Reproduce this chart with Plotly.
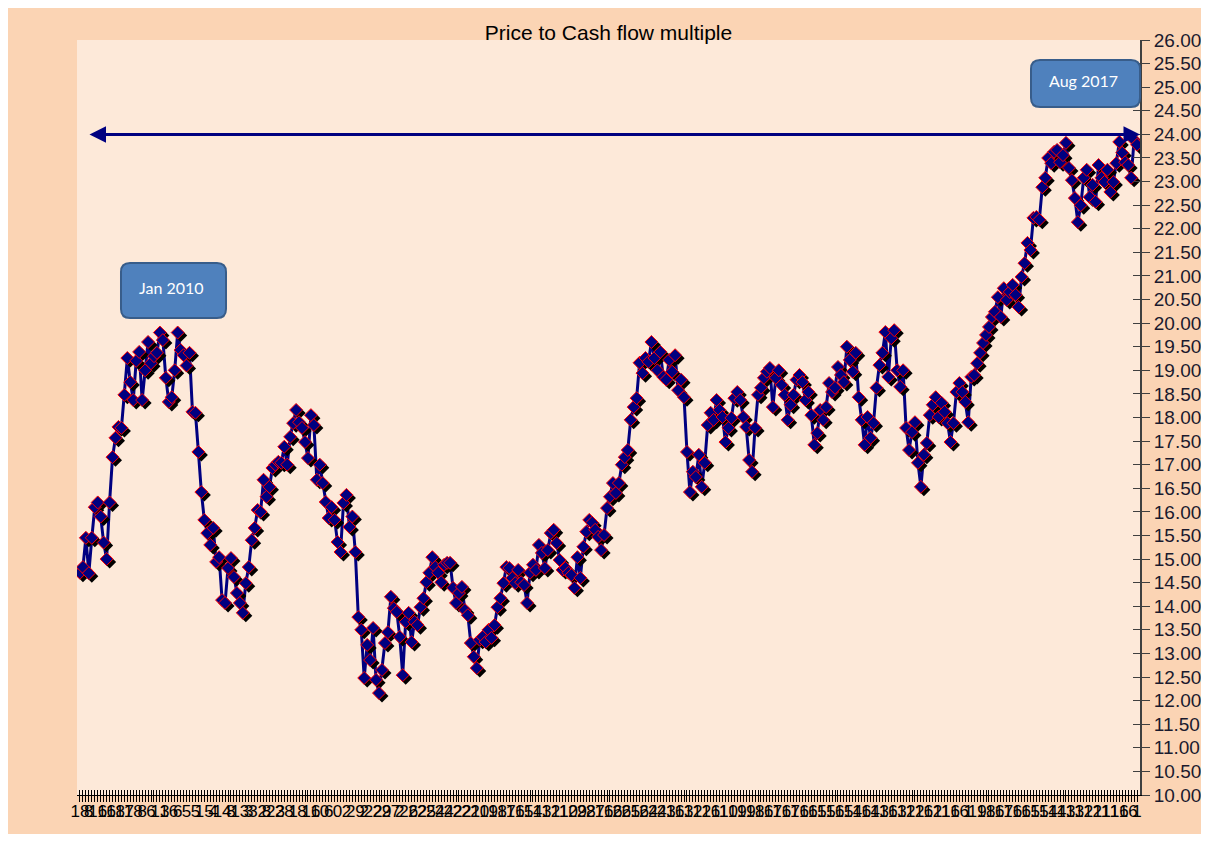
import plotly.graph_objects as go

# ---------------- data ----------------
pcf_values = [
    # 2009 - 2010
    14.71, 14.83, 15.45, 14.70, 15.45, 16.10, 16.20, 15.90, 15.35, 15.00,
    16.20, 17.16, 17.57, 17.80, 17.78, 18.48, 19.26, 18.75, 18.37, 19.20,
    19.39, 18.37, 19.00, 19.60, 19.15, 19.30, 19.37, 19.80, 19.64, 18.84,
    18.33, 18.43, 19.00, 19.80, 19.43, 19.32, 19.10, 19.37, 18.12, 18.10,
    17.27, 16.42, 15.83, 15.55, 15.30, 15.66, 14.94, 15.04, 14.13, 14.07,
    14.81, 15.02, 14.62, 14.28, 14.07, 13.86, 14.49, 14.83, 15.40, 15.66,
    16.04, 16.00, 16.68, 16.32, 16.53, 16.93, 17.00, 17.06, 17.04, 17.38,
    17.00, 17.59, 17.88, 18.16, 17.90, 17.78, 17.48, 17.14, 18.05, 17.84,
    16.68, 17.00, 16.61, 16.21, 15.87,
    # 2011 - 2013
    16.10, 15.83, 15.36, 15.15, 16.19, 16.36, 15.68, 15.90, 15.15, 13.77,
    13.50, 12.48, 13.18, 12.86, 13.54, 12.44, 12.16, 12.65, 13.22, 13.45,
    14.20, 13.96, 13.88, 13.35, 12.54, 13.67, 13.86, 13.24, 13.67, 13.60,
    13.98, 14.17, 14.51, 14.71, 15.04, 14.83, 14.71, 14.51, 14.88, 14.92,
    14.92, 14.39, 14.07, 14.28, 14.41, 13.92, 13.81, 13.22, 12.93, 12.69,
    13.29, 13.35, 13.24, 13.50, 13.33, 13.60, 13.98, 14.17, 14.49, 14.83,
    14.81, 14.60, 14.49, 14.77, 14.51, 14.45, 14.07, 14.71, 14.88, 14.77,
    15.30, 15.13, 14.81, 15.19, 15.55, 15.62, 15.34, 14.98, 14.77, 14.81,
    14.71, 14.66, 14.39, 15.04, 14.60, 15.26, 15.58, 15.83, 15.77, 15.62,
    15.47, 15.19, 15.51, 16.08, 16.32,
    # 2013 - 2015
    16.61, 16.40, 16.61, 17.00, 17.16, 17.31, 17.95, 18.22, 18.41, 19.16,
    18.94, 19.26, 19.18, 19.60, 19.26, 19.00, 19.39, 18.86, 18.80, 19.22,
    18.97, 19.32, 18.58, 18.80, 18.43, 17.27, 16.42, 16.85, 16.74, 17.21,
    16.53, 17.04, 17.84, 18.10, 17.95, 18.37, 18.16, 18.01, 17.48, 17.78,
    17.99, 18.41, 18.54, 18.37, 18.01, 17.80, 17.10, 16.85, 17.78, 18.48,
    18.63, 18.84, 18.97, 19.05, 18.22, 18.84, 19.00, 18.69, 18.48, 17.95,
    18.27, 18.48, 18.80, 18.90, 18.75, 18.37, 18.54, 18.05, 17.42, 17.67,
    18.16, 17.95, 18.22, 18.73, 18.54, 18.63, 19.07, 18.90, 18.75, 19.50,
    19.22, 18.97, 19.37, 18.43, 17.95, 17.42, 18.01, 17.57, 17.88, 18.63,
    # 2015 - 2017
    19.11, 19.37, 19.81, 18.86, 19.68, 19.85, 19.00, 18.65, 19.00, 17.78,
    17.31, 17.69, 17.90, 17.04, 16.53, 17.21, 17.46, 18.05, 18.27, 18.43,
    18.01, 18.31, 18.12, 17.88, 17.48, 17.88, 18.54, 18.73, 18.54, 18.33,
    17.90, 18.86, 18.90, 19.15, 19.37, 19.58, 19.75, 19.92, 20.13, 20.24,
    20.55, 20.13, 20.74, 20.49, 20.66, 20.81, 20.60, 20.34, 20.98, 21.27,
    21.70, 21.55, 22.23, 22.25, 22.19, 22.88, 23.08, 23.50, 23.39, 23.63,
    23.67, 23.41, 23.56, 23.82, 23.29, 23.03, 22.65, 22.14, 22.50, 23.08,
    23.25, 22.67, 22.93, 22.57, 23.35, 23.08, 22.99, 23.25, 22.78, 22.99,
    23.39, 23.84, 23.61, 23.41, 23.35, 23.08, 23.88, 23.78,
]

x_tick_labels = (
    "4 3 24 21 24 2 14 11 16 16 12 18 13 18 18 8 16 16 18 17 18 8 6 13 16 6 5 5 "
    "15 4 14 8 13 3 32 8 23 28 1 8 16 10 6 0 2 29 2 22 29 27 2 26 22 25 24 24 22 "
    "22 21 20 19 18 17 16 15 14 13 12 11 10 29 28 27 16 16 26 25 16 24 24 23 16 "
    "13 12 12 16 11 10 19 19 18 16 17 16 17 16 16 15 15 16 15 14 16 14 13 16 13 "
    "12 12 16 12 11 16 16 1 19 18 16 17 16 16 15 15 14 14 13 13 12 12 11 11 16 16 1"
).split()

callout_texts = ["Jan 2010", "Aug 2017"]
title_text = "Price to Cash flow multiple"
y_min, y_max, y_step = 10.0, 26.0, 0.5
arrow_level = 24.0

# ---------------- geometry (page pixels) ----------------
PAGE_OFF = 8
FIG_W, FIG_H = 1193, 826
PL, PT, PR, PB = 77, 40, 1140, 795
PW, PH = PR - PL, PB - PT

n = len(pcf_values)
idx = list(range(n))
xr = [-1, n]
yr = [y_min, y_max]
sx = 3 * (xr[1] - xr[0]) / PW   # 3 px shadow offset
sy = 3 * (yr[1] - yr[0]) / PH

# tick labels every third point, aligned to the last point
label_pos = list(range(n - 1, -1, -3))[::-1]
if len(x_tick_labels) >= len(label_pos):
    labs = x_tick_labels[-len(label_pos):]
else:
    labs = [""] * (len(label_pos) - len(x_tick_labels)) + x_tick_labels
ticktext = [""] * n
for p, t in zip(label_pos, labs):
    ticktext[p] = t

NAVY = "#000080"
FONT = "Liberation Sans, Arial, sans-serif"

fig = go.Figure()
fig.add_trace(go.Scatter(x=idx, y=pcf_values, mode="lines",
                         line=dict(color=NAVY, width=3),
                         xaxis="x", yaxis="y", hoverinfo="skip"))
fig.add_trace(go.Scatter(x=idx, y=pcf_values, mode="markers",
                         marker=dict(symbol="diamond", size=10, color="black",
                                     line=dict(width=0)),
                         xaxis="x2", yaxis="y2", hoverinfo="skip"))
fig.add_trace(go.Scatter(x=idx, y=pcf_values, mode="markers",
                         marker=dict(symbol="diamond", size=10, color=NAVY,
                                     line=dict(color="#FF0000", width=1)),
                         xaxis="x3", yaxis="y3", hoverinfo="skip"))


def px_x(X):
    return (X - PL) / PW


def px_y(Y):
    return (PB - Y) / PH


def rounded_path(X0, Y0, X1, Y1, r):
    def P(X, Y):
        return f"{px_x(X):.5f},{px_y(Y):.5f}"
    return (f"M {P(X0 + r, Y0)} L {P(X1 - r, Y0)} Q {P(X1, Y0)} {P(X1, Y0 + r)} "
            f"L {P(X1, Y1 - r)} Q {P(X1, Y1)} {P(X1 - r, Y1)} "
            f"L {P(X0 + r, Y1)} Q {P(X0, Y1)} {P(X0, Y1 - r)} "
            f"L {P(X0, Y0 + r)} Q {P(X0, Y0)} {P(X0 + r, Y0)} Z")


boxes = [(121, 263, 226, 318), (1031, 60, 1140, 107)]
shapes = []
annotations = []
for (X0, Y0, X1, Y1), txt in zip(boxes, callout_texts):
    shapes.append(dict(type="path", xref="paper", yref="paper",
                       path=rounded_path(X0, Y0, X1, Y1, 9),
                       fillcolor="#4F81BD", line=dict(color="#385D8A", width=2),
                       layer="above"))
    annotations.append(dict(xref="paper", yref="paper",
                            x=px_x((X0 + X1) / 2 - 2), y=px_y((Y0 + Y1) / 2 - 3),
                            xanchor="center", yanchor="middle",
                            text=txt, showarrow=False,
                            font=dict(family="Lato, Open Sans, sans-serif",
                                      size=16, color="white")))

# double-headed horizontal arrow
annotations.append(dict(x=xr[1], y=arrow_level, xref="x", yref="y",
                        ax=xr[0] + (88 - PL) / PW * (xr[1] - xr[0]), ay=arrow_level,
                        axref="x", ayref="y", text="", showarrow=True,
                        arrowhead=2, arrowside="end+start", arrowsize=1.1,
                        arrowwidth=3, arrowcolor=NAVY, standoff=0, startstandoff=0))

fig.update_layout(
    width=FIG_W, height=FIG_H,
    margin=dict(l=PL - PAGE_OFF, r=PAGE_OFF + FIG_W - PR,
                t=PT - PAGE_OFF, b=PAGE_OFF + FIG_H - PB, pad=0, autoexpand=False),
    paper_bgcolor="#FBD4B4", plot_bgcolor="#FDE9D9",
    showlegend=False, hovermode=False,
    font=dict(family=FONT, color="black"),
    title=dict(text=title_text, x=0.5, xref="paper", xanchor="center",
               y=1 - (33 - PAGE_OFF) / FIG_H, yref="container", yanchor="middle",
               font=dict(family=FONT, size=21, color="black")),
    xaxis=dict(range=xr, tickmode="array", tickvals=idx, ticktext=ticktext,
               tickangle=0, ticks="outside", ticklen=6, tickwidth=1, tickcolor="black",
               ticklabelstandoff=-5,
               showline=True, linecolor="black", linewidth=1, automargin=False,
               showgrid=False, zeroline=False,
               tickfont=dict(family=FONT, size=17, color="black")),
    yaxis=dict(range=yr, side="right", tickmode="linear", tick0=y_min, dtick=y_step,
               tickformat=".2f", ticks="outside", ticklen=8, tickwidth=1,
               tickcolor="#3F3F3F", showline=True, linecolor="#3F3F3F", linewidth=2,
               showgrid=False, zeroline=False, automargin=False,
               tickfont=dict(family=FONT, size=19, color="#1a1a2e")),
    xaxis2=dict(range=[xr[0] - sx, xr[1] - sx], overlaying="x", visible=False,
                anchor="y2"),
    yaxis2=dict(range=[yr[0] + sy, yr[1] + sy], overlaying="y", visible=False,
                anchor="x2"),
    xaxis3=dict(range=xr, overlaying="x", anchor="y3", tickmode="array",
                tickvals=idx, ticks="inside", ticklen=5, tickwidth=1, tickcolor="black",
                showticklabels=False, showline=False, showgrid=False, zeroline=False),
    yaxis3=dict(range=yr, overlaying="y", anchor="x3", side="right",
                tickmode="linear", tick0=y_min, dtick=y_step, ticks="inside",
                ticklen=7, tickwidth=1, tickcolor="#3F3F3F",
                showticklabels=False, showline=False, showgrid=False, zeroline=False),
    shapes=shapes,
    annotations=annotations,
)

fig.write_html("out.html")
